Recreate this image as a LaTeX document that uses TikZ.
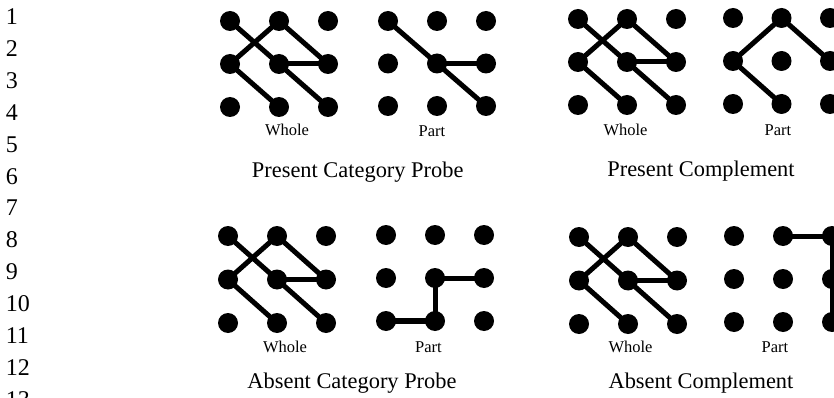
\documentclass[tikz,border=0pt]{standalone}
\usepackage{fontspec}
\setmainfont{Liberation Serif}
\newcommand{\dotgrid}[5]{%
  \foreach \c in {0,1,2}{\foreach \r in {0,1,2}{%
    \node[dotnode] (#1-\c-\r) at ({#2+\c*#4},{#3+\r*#5}) {};}}}
\newcommand{\wholeedges}[1]{%
  \draw[edge] (#1-0-0.center) -- (#1-1-1.center) -- (#1-2-2.center);
  \draw[edge] (#1-0-1.center) -- (#1-1-0.center) -- (#1-2-1.center);
  \draw[edge] (#1-0-1.center) -- (#1-1-2.center);
  \draw[edge] (#1-1-1.center) -- (#1-2-1.center);}
\begin{document}
\begin{tikzpicture}[x=1pt,y=-1pt,
  dotnode/.style={circle,fill=black,inner sep=0pt,minimum size=20pt},
  edge/.style={line width=5pt},
  thickedge/.style={line width=6.5pt},
  numtext/.style={anchor=base west,inner sep=0pt,font=\fontsize{24}{24}\selectfont},
  titletext/.style={anchor=base,inner sep=0pt,font=\fontsize{22.4}{22.4}\selectfont},
  labeltext/.style={anchor=base,inner sep=0pt,font=\fontsize{16.5}{16.5}\selectfont}]
\useasboundingbox (0,0) rectangle (834,398);
\clip (0,0) rectangle (834,398);
% line numbers
\foreach \i in {1,...,13}{\node[numtext] (n\i) at (5.6,{24.5+31.9*(\i-1)}) {\i};}
% Present Category Probe
\dotgrid{pcw}{230}{21}{49}{43}
\dotgrid{pcp}{388}{21}{49}{42.5}
\wholeedges{pcw}
\draw[edge] (pcp-0-0.center) -- (pcp-1-1.center) -- (pcp-2-2.center);
\draw[edge] (pcp-1-1.center) -- (pcp-2-1.center);
\node[labeltext] (pcwl) at (287,136) {Whole};
\node[labeltext] (pcpl) at (432,137) {Part};
\node[titletext] (pct) at (357.7,177) {Present Category Probe};
% Present Complement
\dotgrid{pmw}{578}{19}{49}{43}
\dotgrid{pmp}{733}{18}{48.5}{43}
\wholeedges{pmw}
\draw[edge] (pmp-0-1.center) -- (pmp-1-0.center) -- (pmp-2-1.center);
\draw[edge] (pmp-0-1.center) -- (pmp-1-2.center);
\node[labeltext] (pmwl) at (625.5,136) {Whole};
\node[labeltext] (pmpl) at (778,136) {Part};
\node[titletext] (pmt) at (701,176) {Present Complement};
% Absent Category Probe
\dotgrid{acw}{228}{236}{49}{43.5}
\dotgrid{acp}{386}{235}{49}{43}
\wholeedges{acw}
\draw[edge] (acp-2-1.center) -- (acp-1-1.center) -- (acp-1-2.center);
\draw[thickedge] (acp-1-2.center) -- (acp-0-2.center);
\node[labeltext] (acwl) at (285,352) {Whole};
\node[labeltext] (acpl) at (428.5,352) {Part};
\node[titletext] (act) at (352,388) {Absent Category Probe};
% Absent Complement
\dotgrid{amw}{579}{237}{49}{43.5}
\dotgrid{amp}{734}{236}{49}{43}
\wholeedges{amw}
\draw[edge] (amp-1-0.center) -- (amp-2-0.center) -- (amp-2-1.center) -- (amp-2-2.center);
\node[labeltext] (amwl) at (630.5,352.7) {Whole};
\node[labeltext] (ampl) at (775,352.7) {Part};
\node[titletext] (amt) at (701,388) {Absent Complement};
\end{tikzpicture}
\end{document}
